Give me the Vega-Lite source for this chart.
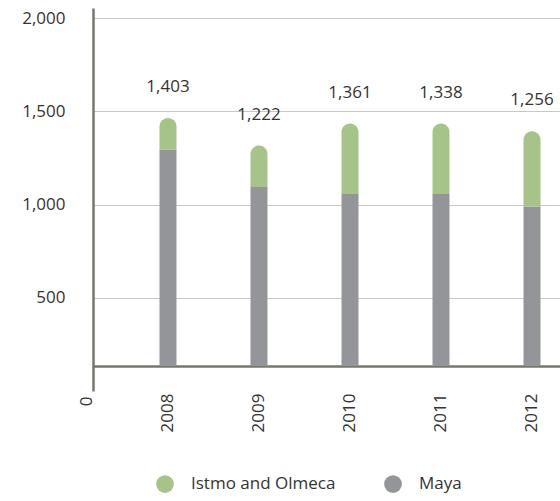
{
  "$schema": "https://vega.github.io/schema/vega-lite/v6.json",
  "width": 514,
  "height": 358,
  "padding": {"left": 21, "top": 8, "right": 0, "bottom": 5},
  "data": {
    "values": [
      {"year": "2008", "Maya": 1294, "Istmo and Olmeca": 170, "label": 1403},
      {"year": "2009", "Maya": 1094, "Istmo and Olmeca": 222, "label": 1222},
      {"year": "2010", "Maya": 1057, "Istmo and Olmeca": 377, "label": 1361},
      {"year": "2011", "Maya": 1057, "Istmo and Olmeca": 377, "label": 1338},
      {"year": "2012", "Maya": 988, "Istmo and Olmeca": 405, "label": 1256}
    ]
  },
  "transform": [
    {"fold": ["Maya", "Istmo and Olmeca"], "as": ["series", "value"]},
    {"stack": "value", "groupby": ["year"], "sort": [{"field": "series", "order": "descending"}], "as": ["v0", "v1"]}
  ],
  "encoding": {
    "x": {
      "field": "year",
      "type": "nominal",
      "scale": {"type": "band", "paddingOuter": 0.324, "paddingInner": 0},
      "axis": {
        "title": null,
        "labelAngle": -90,
        "labelPadding": 27,
        "ticks": false,
        "grid": false,
        "domainColor": "#76776e",
        "domainWidth": 2.5,
        "labelFont": "Open Sans",
        "labelFontSize": 17,
        "labelColor": "#333333"
      }
    }
  },
  "layer": [
    {
      "transform": [{"filter": "datum.series === 'Maya'"}],
      "mark": {"type": "bar", "size": 17, "clip": true},
      "encoding": {
        "y": {
          "field": "v1",
          "type": "quantitative",
          "scale": {"domain": [0, 2054], "range": [383, 0], "nice": false, "zero": true},
          "axis": {
            "title": null,
            "values": [0, 500, 1000, 1500, 2000],
            "format": ",d",
            "ticks": false,
            "domainColor": "#76776e",
            "domainWidth": 2.5,
            "gridColor": "#c8c8c8",
            "gridWidth": 1,
            "gridOpacity": {"condition": {"test": "datum.value === 0", "value": 0}, "value": 1},
            "labelPadding": {"condition": {"test": "datum.value === 0", "value": 7}, "value": 28},
            "labelOffset": {"condition": {"test": "datum.value === 0", "value": 5}, "value": 0},
            "labelAngle": {"expr": "datum.value === 0 ? -90 : 0"},
            "labelAlign": "right",
            "labelBaseline": "middle",
            "labelFont": "Open Sans",
            "labelFontSize": 17,
            "labelColor": "#333333",
            "encode": {
              "domain": {"update": {"y": {"signal": "height"}}}
            }
          }
        },
        "y2": {"field": "v0"},
        "color": {
          "field": "series",
          "type": "nominal",
          "scale": {"domain": ["Istmo and Olmeca", "Maya"], "range": ["#a6c48a", "#939598"]},
          "legend": {
            "title": null,
            "orient": "none",
            "legendX": 63,
            "legendY": 467,
            "direction": "horizontal",
            "symbolType": "circle",
            "symbolSize": 314,
            "symbolStrokeWidth": 0,
            "symbolOpacity": 1,
            "labelFont": "Open Sans",
            "labelFontSize": 17,
            "labelColor": "#333333",
            "labelOffset": 17,
            "columnPadding": 48
          }
        }
      }
    },
    {
      "transform": [{"filter": "datum.series !== 'Maya'"}],
      "mark": {"type": "bar", "size": 17, "clip": true, "cornerRadiusTopLeft": 8.5, "cornerRadiusTopRight": 8.5},
      "encoding": {
        "y": {"field": "v1", "type": "quantitative"},
        "y2": {"field": "v0"},
        "color": {"field": "series", "type": "nominal"}
      }
    },
    {
      "transform": [{"filter": "datum.series !== 'Maya'"}],
      "mark": {"type": "text", "dy": -31, "font": "Open Sans", "fontSize": 17, "color": "#333333", "baseline": "middle"},
      "encoding": {
        "y": {"field": "v1", "type": "quantitative"},
        "text": {"field": "label", "type": "quantitative", "format": ","}
      }
    }
  ],
  "config": {
    "view": {"stroke": null}
  }
}
